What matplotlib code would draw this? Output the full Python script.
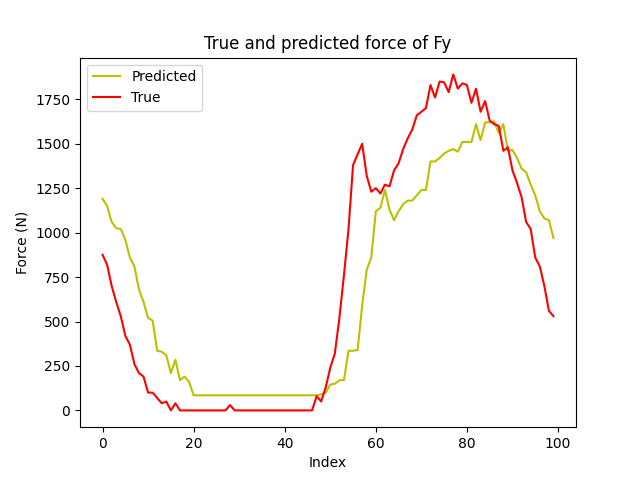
import matplotlib
matplotlib.use('Agg')
import matplotlib.pyplot as plt

# Values
predicted = [1190, 1150, 1060, 1025, 1020, 960, 860, 810, 680, 610,
             520, 505, 335, 330, 310, 210, 285, 170, 190, 160] + [85] * 28 + \
            [90, 100, 145, 150, 170, 170, 335, 335, 340, 590,
             790, 860, 1120, 1140, 1240, 1130, 1070, 1120, 1160, 1180,
             1180, 1210, 1240, 1240, 1400, 1400, 1420, 1445, 1460, 1470,
             1455, 1510, 1510, 1510, 1610, 1520, 1620, 1620, 1625, 1560,
             1610, 1460, 1465, 1420, 1360, 1340, 1270, 1210, 1120, 1080,
             1070, 970]
true_vals = [875, 820, 700, 610, 530, 420, 370, 260, 210, 190,
             100, 100, 70, 40, 50, 0, 40, 0] + [0] * 10 + [30] + [0] * 18 + \
            [80, 50, 130, 240, 320, 520, 760, 1020, 1380, 1440,
             1500, 1320, 1230, 1250, 1220, 1270, 1260, 1350, 1390, 1470,
             1530, 1580, 1660, 1680, 1700, 1830, 1760, 1850, 1845, 1790,
             1890, 1810, 1840, 1830, 1730, 1810, 1680, 1740, 1630, 1610,
             1600, 1460, 1480, 1350, 1280, 1200, 1060, 1020, 860, 810,
             700, 560, 530]
index = list(range(len(predicted)))

plt.figure(figsize=(6.4, 4.8), dpi=100)
plt.plot(index, predicted, color='y', label='Predicted')
plt.plot(range(len(true_vals)), true_vals, color='r', label='True')
plt.title('True and predicted force of Fy')
plt.xlabel('Index'); plt.ylabel('Force (N)')
plt.legend(loc='upper left')
plt.savefig('out.png')
